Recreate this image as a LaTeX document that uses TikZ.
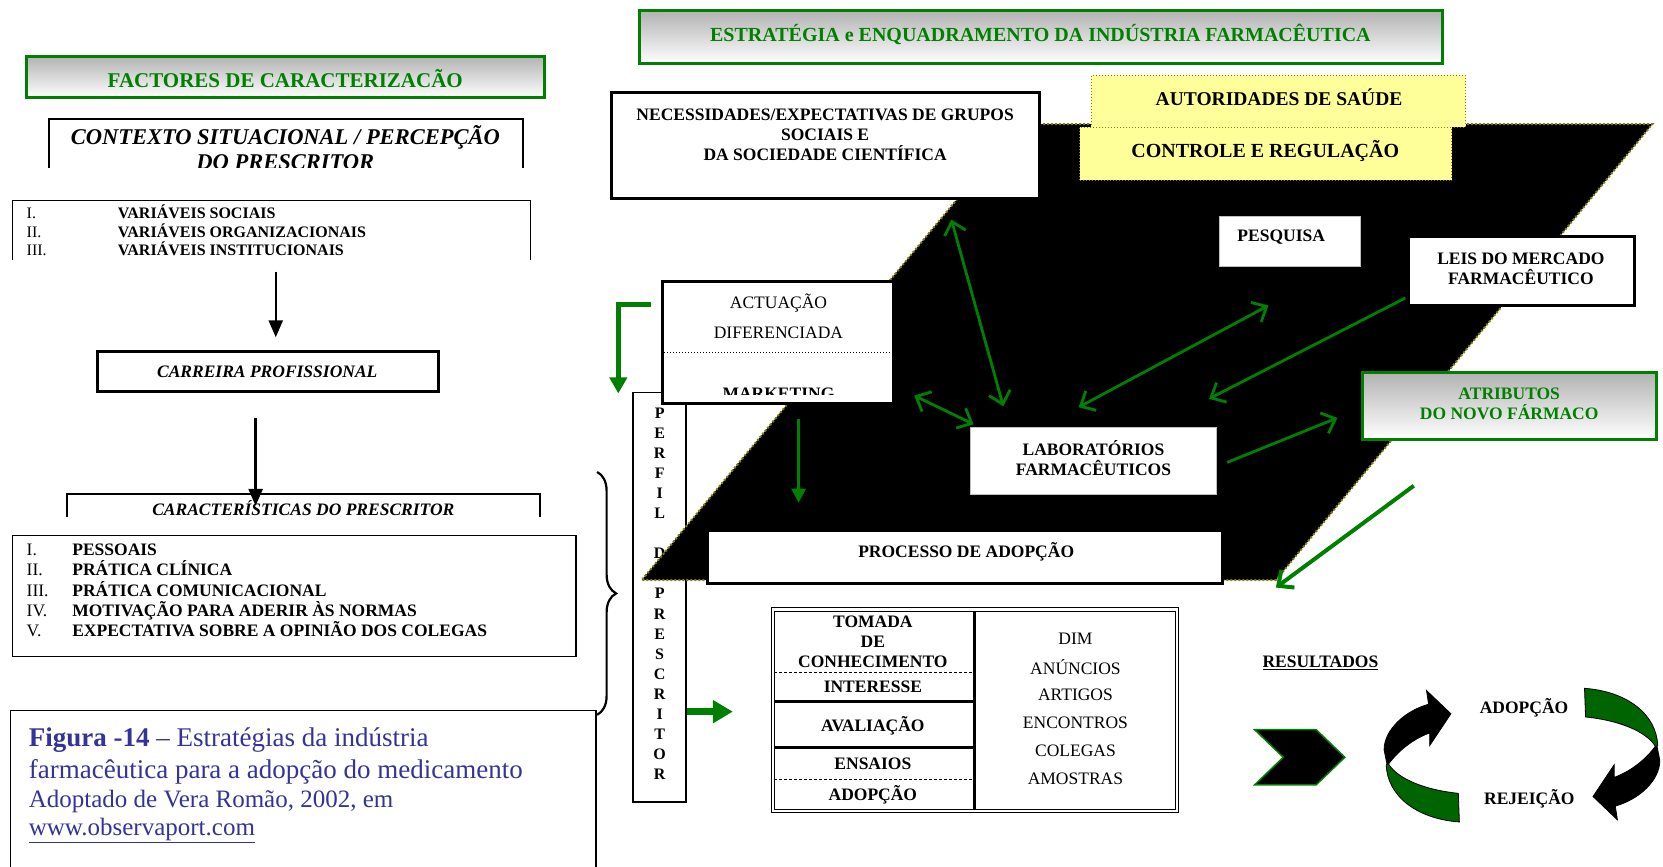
\documentclass[tikz,border=0pt]{standalone}
\usepackage{fontspec}
\setmainfont{Liberation Serif}
\usepackage{tikz}
\usetikzlibrary{arrows,arrows.meta,positioning,fit,calc,decorations.pathreplacing}

\definecolor{tgreen}{RGB}{0,128,0}
\definecolor{dgreen}{RGB}{0,100,0}
\definecolor{capblue}{RGB}{51,51,153}
\definecolor{lyellow}{RGB}{255,255,153}
\definecolor{dotolive}{RGB}{128,128,0}

\tikzset{
  titlebox/.style={draw=tgreen, line width=3pt, top color=black!30, bottom color=white, inner sep=0pt},
  whitebox/.style={draw, fill=white, line width=1.5pt, inner sep=0pt},
  thickbox/.style={draw, fill=white, line width=3pt, inner sep=0pt},
  greybox/.style={draw=black!25, fill=white, line width=1pt, inner sep=0pt},
  yelbox/.style={draw=dotolive, dotted, fill=lyellow, line width=1pt, inner sep=0pt},
  lbl/.style={font=\fontsize{17.5}{20}\selectfont\bfseries, inner sep=0pt, align=center},
  lblr/.style={font=\fontsize{17.5}{20}\selectfont, inner sep=0pt, align=center},
  glbl/.style={lbl, text=tgreen},
  barrow/.style={-{Triangle[length=17pt,width=14pt]}, line width=2.5pt},
  garrow/.style={{Straight Barb[length=12pt,width=22pt]}-{Straight Barb[length=12pt,width=22pt]}, draw=tgreen, line width=2.8pt},
  gto/.style={-{Straight Barb[length=12pt,width=22pt]}, draw=tgreen, line width=2.8pt},
  gblock/.style={draw=tgreen, -{Triangle[length=16pt,width=17pt]}, line width=4.5pt}
}

\begin{document}
\begin{tikzpicture}[x=1.0606pt, y=-1.0606pt]
\useasboundingbox (0,0) rectangle (1568,817);

% factores
\node[titlebox, fit={(25,53)(513,92)}] (fact) {};
\node[glbl, font=\fontsize{21}{24}\selectfont\bfseries] (factt) at (269,74) {FACTORES DE CARACTERIZACÃO};

% contexto
\begin{scope}
\clip (30,100) rectangle (510,158);
\node[anchor=base, inner sep=0pt, font=\fontsize{22.5}{24}\selectfont\bfseries\itshape] (ctx1) at (269,136.5) {CONTEXTO SITUACIONAL / PERCEPÇÃO};
\node[anchor=base, inner sep=0pt, font=\fontsize{22.5}{24}\selectfont\bfseries\itshape] (ctx2) at (269,160) {DO PRESCRITOR};
\end{scope}
\draw[line width=1.5pt] (46,158) |- (493,112) -- (493,158);

% variaveis
\draw[line width=1.5pt] (12,245) |- (500,189) -- (500,245);
\foreach \rn/\rt [count=\i] in {I./VARIÁVEIS SOCIAIS, II./VARIÁVEIS ORGANIZACIONAIS, III./VARIÁVEIS INSTITUCIONAIS}{
  \node[anchor=base west, inner sep=0pt, font=\fontsize{16}{18}\selectfont] (vn\i) at (25,{188.5+17.5*\i}) {\rn};
  \node[anchor=base west, inner sep=0pt, font=\fontsize{16}{18}\selectfont\bfseries] (vt\i) at (111,{188.5+17.5*\i}) {\rt};
}

% carreira
\node[thickbox, fit={(92,331)(413,369)}] (carr) {};
\node[lbl, font=\fontsize{17.5}{20}\selectfont\bfseries\itshape] (carrt) at (252,351) {CARREIRA PROFISSIONAL};
\coordinate (b1) at (260,256);
\coordinate (b2) at (260,318);
\draw[barrow] (b1) -- (b2);

% caracteristicas
\draw[line width=1.5pt] (63,487) |- (509,466) -- (509,487);
\node[anchor=base, inner sep=0pt, font=\fontsize{17.5}{20}\selectfont\bfseries\itshape] (carac) at (286,486) {CARACTERÍSTICAS DO PRESCRITOR};
\coordinate (b3) at (241,394);
\coordinate (b4) at (241,477);
\draw[barrow] (b3) -- (b4);

% pessoais
\node[whitebox, fit={(12,505)(543,619)}] (pess) {};
\foreach \rn/\rt [count=\i] in {I./PESSOAIS, II./PRÁTICA CLÍNICA, III./PRÁTICA COMUNICACIONAL, IV./MOTIVAÇÃO PARA ADERIR ÀS NORMAS, V./EXPECTATIVA SOBRE A OPINIÃO DOS COLEGAS}{
  \node[anchor=base west, inner sep=0pt, font=\fontsize{17.5}{20}\selectfont] (pn\i) at (25,{505+19*\i}) {\rn};
  \node[anchor=base west, inner sep=0pt, font=\fontsize{17.5}{20}\selectfont\bfseries] (pt\i) at (68,{505+19*\i}) {\rt};
}

% legenda
\draw[line width=1.5pt] (10,830) |- (562,670) -- (562,830);
\node[anchor=base west, inner sep=0pt, text=capblue, font=\fontsize{27}{30}\selectfont] (cap1) at (27,704) {\textbf{Figura -14} – Estratégias da indústria};
\node[anchor=base west, inner sep=0pt, text=capblue, font=\fontsize{27}{30}\selectfont] (cap2) at (27,734) {farmacêutica para a adopção do medicamento};
\node[anchor=base west, inner sep=0pt, text=capblue, font=\fontsize{25}{28}\selectfont] (cap3) at (27,761) {Adoptado de Vera Romão, 2002, em};
\node[anchor=base west, inner sep=0pt, text=capblue, font=\fontsize{25}{28}\selectfont] (cap4) at (27,788) {\underline{www.observaport.com}};

% chaveta
\coordinate (ch1) at (563,445);
\coordinate (ch2) at (563,674);
\draw[decorate, decoration={brace, amplitude=19pt}, line width=2.2pt] (ch1) -- (ch2);

% perfil
\node[whitebox, fit={(597,370)(647,756)}] (perf) {};
\foreach \c [count=\i from 0] in {P,E,R,F,I,L}
  \node[lbl, font=\fontsize{16}{18}\selectfont\bfseries] (pa\i) at (622,{389.7+18.9*\i}) {\c};
\foreach \c [count=\i from 7] in {D,O,P,R,E,S,C,R,I,T,O,R}
  \node[lbl, font=\fontsize{16}{18}\selectfont\bfseries] (pb\i) at (622,{389.7+18.9*\i}) {\c};

% estrategia
\node[titlebox, fit={(603,10)(1360,60)}] (estr) {};
\node[glbl, font=\fontsize{20}{24}\selectfont\bfseries] (estrt) at (981,32) {ESTRATÉGIA e ENQUADRAMENTO DA INDÚSTRIA FARMACÊUTICA};

% fundo negro
\fill[black] (961,117) -- (1558,117) -- (1203,547) -- (605,547) -- cycle;
\draw[dotolive, dotted, line width=2pt] (961,117) -- (1558,117) -- (1203,547) -- (605,547) -- cycle;

% caixas
\node[thickbox, fit={(577,87)(980,187)}] (nec) {};
\node[lbl] (nect) at (778,127) {NECESSIDADES/EXPECTATIVAS DE GRUPOS\\SOCIAIS E\\DA SOCIEDADE CIENTÍFICA};
\node[yelbox, fit={(1029,71)(1382,120)}] (aut) {};
\node[lbl, font=\fontsize{19.5}{22}\selectfont\bfseries] (autt) at (1206,92) {AUTORIDADES DE SAÚDE};
\node[yelbox, fit={(1018,120)(1369,170)}] (ctrl) {};
\node[lbl, font=\fontsize{20}{22}\selectfont\bfseries] (ctrlt) at (1193,142) {CONTROLE E REGULAÇÃO};
\node[greybox, fit={(1150,204)(1283,251)}] (pesq) {};
\node[lbl] (pesqt) at (1208,224) {PESQUISA};
\node[thickbox, fit={(1328,223)(1541,288)}] (leis) {};
\node[lbl] (leist) at (1434,253.5) {LEIS DO MERCADO\\FARMACÊUTICO};
\node[titlebox, fit={(1285,351)(1562,414)}] (atrib) {};
\node[glbl] (atribt) at (1423,380.5) {ATRIBUTOS\\DO NOVO FÁRMACO};
\node[greybox, fit={(915,403)(1147,466)}] (lab) {};
\node[lbl] (labt) at (1031,431.5) {LABORATÓRIOS\\FARMACÊUTICOS};
\node[thickbox, fit={(667,500)(1153,550)}] (proc) {};
\node[lbl] (proct) at (911,520) {PROCESSO DE ADOPÇÃO};

% actuacao
\node[thickbox, fit={(625,265)(842,380)}] (act) {};
\node[lblr] (act1) at (734,286) {ACTUAÇÃO};
\node[lblr] (act2) at (734,314) {DIFERENCIADA};
\draw[dotted, line width=1pt] (act.west |- 0,332) -- (act.east |- 0,332);
\begin{scope}
\clip (627,340) rectangle (840,371.5);
\node[lbl, anchor=base] (act3) at (734,376.5) {MARKETING};
\end{scope}

% setas verdes
\coordinate (g1a) at (897,207);   \coordinate (g1b) at (946,383);
\coordinate (g2a) at (862,373);   \coordinate (g2b) at (918,400);
\coordinate (g3a) at (1017,384);  \coordinate (g3b) at (1196,288);
\coordinate (g4a) at (1325,281);  \coordinate (g4b) at (1140,376);
\coordinate (g5a) at (1157,436);  \coordinate (g5b) at (1261,394);
\coordinate (g6a) at (1333,458);  \coordinate (g6b) at (1203,554);
\draw[garrow] (g1a) -- (g1b);
\draw[garrow] (g2a) -- (g2b);
\draw[garrow] (g3a) -- (g3b);
\draw[gto] (g4a) -- (g4b);
\draw[gto] (g5a) -- (g5b);
\draw[gto, line width=4pt] (g6a) -- (g6b);
\coordinate (g7a) at (753,395);  \coordinate (g7b) at (753,474);
\draw[draw=tgreen, line width=3pt, -{Triangle[length=14pt,width=14pt]}] (g7a) -- (g7b);
\coordinate (g8a) at (614,287);  \coordinate (g8b) at (583,371);
\draw[gblock, line join=miter] (g8a) -| (g8b);
\coordinate (g9a) at (648,671);  \coordinate (g9b) at (691,671);
\draw[draw=tgreen, line width=7pt, -{Triangle[length=20pt,width=22pt]}] (g9a) -- (g9b);

% tabela
\draw[line width=0.8pt] (727,573) rectangle (1111,766);
\draw[line width=0.8pt] (730,576) rectangle (1108,763);
\node[inner sep=0pt, fit={(727,573)(1111,766)}] (tab) {};
\draw[line width=3pt] (919,576) -- (919,763);
\draw[dashed, dash pattern=on 3pt off 2pt, line width=1.5pt] (730,634) -- (919,634);
\draw[line width=3pt] (730,661.5) -- (919,661.5);
\draw[line width=3pt] (730,705) -- (919,705);
\draw[dashed, dash pattern=on 3pt off 2pt, line width=1.5pt] (730,735) -- (919,735);
\node[lbl] (t1) at (823,605.5) {TOMADA\\DE\\CONHECIMENTO};
\node[lbl] (t2) at (823,647.5) {INTERESSE};
\node[lbl] (t3) at (823,684) {AVALIAÇÃO};
\node[lbl] (t4) at (823,720.5) {ENSAIOS};
\node[lbl] (t5) at (823,749.5) {ADOPÇÃO};
\foreach \w [count=\i from 0] in {DIM,ANÚNCIOS,ARTIGOS,ENCONTROS,COLEGAS,AMOSTRAS}
  \node[lblr] (m\i) at (1014,{602.5+26.3*\i}) {\w};

% resultados
\node[lbl] (res) at (1245,625) {\underline{RESULTADOS}};
\filldraw[fill=black, draw=tgreen, line width=1.5pt] (1183,688) -- (1241,688) -- (1268,714) -- (1241,740) -- (1183,740) -- (1210,714) -- cycle;
\node[lbl] (adop) at (1437,667) {ADOPÇÃO};
\node[lbl] (rej) at (1442,753) {REJEIÇÃO};

% ciclo
\foreach \r in {0,180}{
\begin{scope}[rotate around={\r:(1435,712)}]
\filldraw[fill=black, draw=black, line width=0.8pt] (1347,664) .. controls (1325,670) and (1305,688) .. (1305,707) -- (1308,722) .. controls (1318,708) and (1332,697) .. (1348,691) -- (1348,703) -- (1368,673) -- (1345,651) -- cycle;
\filldraw[fill=dgreen, draw=black, line width=0.8pt] (1307,721) .. controls (1308,750) and (1335,772) .. (1376,775) -- (1375,748) .. controls (1345,745) and (1318,735) .. (1309,720) -- cycle;
\end{scope}
}

\end{tikzpicture}
\end{document}
